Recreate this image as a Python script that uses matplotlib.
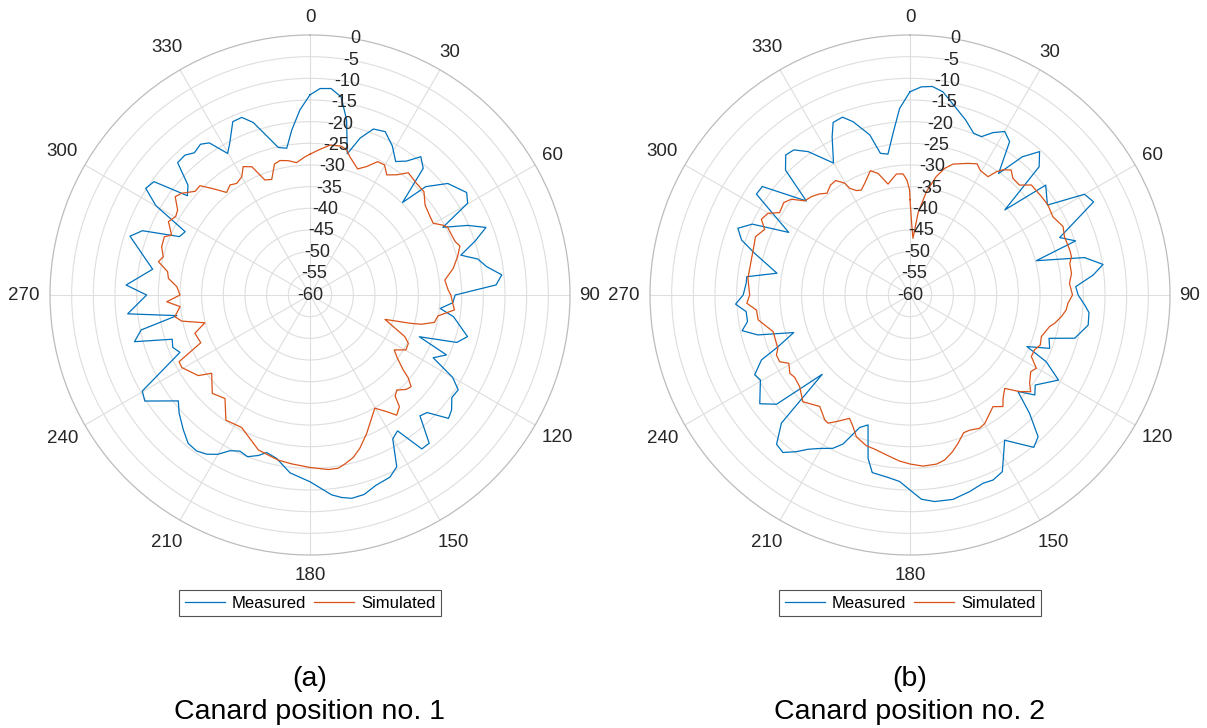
import numpy as np
import matplotlib.pyplot as plt

# =========================================
# DATA — normalised patterns (dB) vs azimuth (deg)
# =========================================
# Canard position no. 1
meas1_theta = [0, 2.8, 5.8, 8.9, 11.8, 14.8, 17.7, 20.9, 24.7, 28.9, 32.7, 35.8, 38.7, 41.8, 45.0,
               46.9, 51.0, 56.8, 59.8, 63.0, 66.2, 69.0, 71.9, 75.2, 77.9, 80.9, 84.0, 86.9, 90.0,
               93.1, 95.9, 98.6, 104.8, 107.9, 110.9, 113.7, 117.0, 120.0, 122.6, 125.9, 129.1,
               131.7, 135.1, 137.7, 141.2, 144.0, 147.2, 150.1, 153.2, 156.3, 161.0, 164.8, 168.4,
               171.1, 173.8, 180.0, 186.4, 191.5, 195.4, 197.8, 201.1, 204.2, 207.2, 210.1, 213.0,
               216.0, 219.4, 223.2, 227.9, 231.2, 237.3, 240.2, 246.2, 249.1, 252.2, 255.1, 258.3,
               261.2, 264.1, 270.0, 273.1, 279.3, 288.1, 291.0, 294.1, 296.9, 300.1, 303.0, 306.0,
               309.0, 312.0, 315.0, 318.2, 320.9, 324.0, 326.5, 329.8, 332.1, 336.0, 339.0, 341.8,
               347.9, 351.0, 353.7, 356.9]
meas1_db = [-13.8, -12.3, -12.1, -13.7, -18.7, -26.3, -22.0, -19.0, -18.5, -20.7, -23.4, -21.9, -19.1, -20.8, -29.8,
            -23.4, -19.1, -16.8, -17.9, -25.6, -20.2, -16.5, -19.9, -24.0, -20.4, -18.7, -15.5, -17.0, -26.5,
            -27.0, -29.8, -26.5, -22.4, -24.4, -33.0, -25.6, -28.1, -22.0, -19.4, -19.6, -17.9,
            -17.2, -21.7, -22.3, -16.1, -16.1, -22.7, -21.7, -15.6, -14.1, -13.5, -12.3, -12.1,
            -12.7, -13.6, -16.9, -18.7, -21.5, -22.3, -21.1, -20.0, -20.5, -19.6, -17.5, -16.2,
            -15.5, -15.7, -17.3, -19.3, -21.0, -14.7, -15.4, -27.2, -26.1, -26.6, -18.1, -20.2,
            -28.9, -17.7, -22.3, -17.5, -23.2, -16.3, -18.6, -27.0, -27.7, -18.9, -14.8, -15.5,
            -23.6, -22.1, -16.8, -16.7, -17.7, -17.0, -17.9, -22.2, -20.4, -16.2, -16.1, -18.1,
            -25.2, -25.7, -21.7, -17.2]

sim1_theta = [0, 3.3, 7.6, 11.8, 14.2, 16.1, 20.7, 23.8, 26.9, 29.8, 32.6, 35.8, 38.8, 43.7, 47.8,
              52.0, 56.9, 59.8, 62.2, 63.8, 67.0, 69.8, 71.9, 75.4, 79.5, 83.7, 87.9, 90.0, 95.9,
              99.3, 102.4, 104.7, 105.7, 108.0, 113.7, 116.2, 119.8, 123.1, 125.9, 128.8, 130.1,
              132.2, 134.5, 137.6, 139.9, 141.3, 144.2, 146.7, 150.2, 154.0, 157.7, 162.0, 165.1,
              168.3, 170.7, 174.0, 177.8, 180.0, 186.2, 190.9, 195.9, 198.4, 207.3, 213.9, 219.4,
              224.8, 231.5, 234.2, 240.5, 243.0, 246.4, 251.6, 255.2, 258.5, 260.9, 264.9, 267.3,
              270.0, 273.6, 276.7, 279.3, 282.4, 284.6, 288.0, 291.8, 293.4, 297.4, 300.3, 302.7,
              306.1, 308.4, 312.1, 314.8, 317.3, 320.9, 324.0, 326.7, 330.0, 332.5, 335.6, 338.6,
              341.7, 344.8, 347.4, 350.8, 354.2, 357.9]
sim1_db = [-27.5, -26.5, -25.1, -24.9, -25.5, -26.8, -28.9, -27.6, -25.5, -25.4, -27.1, -25.8, -23.8, -24.4, -24.5,
           -26.3, -26.9, -27.1, -25.4, -24.6, -24.5, -24.3, -23.6, -24.8, -26.4, -28.7, -28.1, -27.5, -26.5,
           -30.1, -30.6, -33.4, -35.8, -41.8, -36.1, -34.7, -34.5, -36.8, -35.1, -32.4, -30.4,
           -28.5, -28.9, -30.3, -29.5, -27.0, -25.8, -27.8, -29.9, -27.9, -25.5, -22.8, -21.2,
           -20.2, -19.5, -19.5, -20.0, -20.2, -20.8, -21.2, -22.0, -22.3, -25.6, -25.2, -29.1,
           -28.0, -31.0, -28.2, -26.0, -26.1, -32.5, -32.0, -34.9, -29.8, -28.4, -29.9, -26.9,
           -30.0, -29.2, -27.1, -26.7, -24.2, -25.0, -24.0, -23.8, -25.2, -23.2, -24.1, -23.7,
           -21.5, -22.2, -24.3, -24.2, -26.5, -29.5, -28.6, -29.2, -28.5, -26.6, -27.5, -31.5,
           -31.9, -28.7, -28.2, -28.6, -29.3, -28.1]

# Canard position no. 2
meas2_theta = [0, 3.1, 6.1, 9.2, 13.9, 17.6, 21.5, 24.3, 27.1, 30.1, 33.0, 36.1, 39.1, 42.1, 45.2,
               48.1, 51.0, 56.8, 60.0, 63.1, 69.0, 71.9, 74.8, 77.9, 81.0, 83.8, 87.1, 90.0, 93.3,
               95.6, 99.6, 104.7, 107.3, 110.9, 113.8, 116.1, 119.8, 125.7, 128.7, 131.8, 134.7,
               137.9, 140.9, 146.9, 152.4, 155.8, 158.8, 163.1, 168.1, 173.2, 176.8, 180.0, 183.2,
               186.9, 192.0, 194.4, 197.9, 200.8, 204.2, 206.7, 210.5, 213.5, 216.0, 218.9, 221.8,
               225.1, 227.9, 230.7, 234.1, 240.4, 242.8, 246.4, 248.6, 252.1, 255.3, 258.0, 260.7,
               264.2, 267.0, 270.0, 274.1, 276.4, 279.3, 285.0, 288.1, 291.2, 294.2, 297.3, 303.3,
               306.3, 312.2, 315.1, 318.4, 321.3, 324.6, 329.9, 333.8, 336.0, 339.2, 341.8, 345.9,
               348.2, 351.1, 354.0, 356.8]
meas2_db = [-13.1, -11.9, -11.6, -12.5, -15.6, -17.6, -19.9, -19.9, -17.9, -16.4, -17.8, -25.3, -18.9, -15.4, -18.0,
            -30.6, -19.7, -22.1, -13.5, -12.5, -23.0, -19.8, -29.8, -18.8, -14.9, -17.5, -21.7, -21.2, -19.6,
            -18.5, -18.3, -20.7, -26.4, -25.5, -30.5, -25.0, -20.5, -24.4, -23.1, -26.6, -21.2,
            -15.9, -14.7, -20.0, -14.0, -13.2, -13.4, -12.6, -11.8, -12.0, -12.8, -15.0, -16.9,
            -17.6, -18.1, -21.1, -28.5, -27.3, -22.3, -20.4, -18.9, -17.3, -15.3, -13.3, -13.8,
            -18.1, -32.7, -20.2, -17.2, -20.3, -19.7, -22.6, -27.3, -31.8, -23.7, -20.4, -22.0,
            -22.0, -19.7, -21.5, -22.1, -22.1, -28.9, -22.9, -19.1, -17.4, -20.1, -28.5, -17.6,
            -17.7, -27.7, -19.3, -16.8, -17.1, -19.4, -24.8, -19.3, -16.4, -16.1, -17.9, -21.9,
            -26.6, -27.1, -22.5, -16.9]

sim2_theta = [0, 1.5, 3.0, 5.6, 9.0, 12.5, 15.3, 18.2, 23.8, 27.1, 29.5, 33.4, 35.0, 36.6, 39.0,
              41.4, 44.9, 47.8, 53.2, 56.9, 61.3, 65.9, 69.3, 74.3, 76.6, 78.8, 82.4, 85.8, 90.0,
              93.0, 95.5, 98.1, 101.1, 102.8, 107.6, 111.0, 113.8, 116.9, 120.1, 122.4, 126.4,
              128.7, 131.4, 134.6, 138.0, 140.2, 143.4, 149.8, 152.4, 156.2, 158.7, 162.1, 164.9,
              168.1, 171.1, 175.7, 180.0, 183.6, 188.4, 192.9, 196.2, 200.7, 203.4, 206.1, 210.2,
              212.6, 214.3, 219.0, 223.3, 225.1, 230.3, 234.5, 236.9, 240.6, 242.9, 245.8, 248.0,
              252.9, 255.0, 260.7, 264.4, 267.1, 270.0, 275.9, 282.4, 290.7, 294.3, 297.0, 299.9,
              302.3, 306.2, 308.9, 311.8, 315.1, 318.2, 320.8, 324.1, 327.0, 329.7, 330.5, 332.8,
              335.1, 337.9, 342.3, 345.3, 348.8, 353.6, 356.7, 358.5, 359.8]
sim2_db = [-38.0, -44.0, -46.9, -41.0, -35.9, -32.0, -29.7, -28.2, -26.8, -26.0, -27.0, -27.3, -25.3, -24.0, -22.9,
           -24.1, -24.2, -22.2, -22.1, -22.0, -22.4, -21.3, -21.9, -21.7, -21.7, -22.4, -22.4, -23.1, -22.5,
           -23.5, -23.8, -24.7, -26.0, -27.0, -28.2, -27.8, -28.6, -28.6, -26.3, -27.0, -25.7,
           -24.3, -26.3, -29.3, -27.9, -26.5, -27.9, -25.7, -25.3, -25.9, -25.9, -24.0, -22.5,
           -21.1, -20.5, -20.4, -21.0, -21.6, -22.7, -23.5, -23.8, -25.0, -26.9, -28.3, -26.2,
           -24.9, -25.1, -26.9, -25.7, -25.1, -26.9, -27.3, -26.9, -27.9, -26.2, -26.2, -27.1,
           -27.3, -27.3, -24.5, -24.4, -22.3, -23.0, -22.4, -22.5, -21.9, -23.2, -21.5, -22.2,
           -24.4, -23.9, -24.8, -27.4, -27.9, -28.7, -29.7, -28.7, -28.5, -30.1, -31.7, -32.9,
           -33.3, -32.2, -29.9, -31.0, -33.9, -31.9, -32.0, -33.5, -35.8]

theta_ticks = list(range(0, 360, 30))
r_ticks = list(range(-60, 1, 5))
captions = [("(a)", "Canard position no. 1"), ("(b)", "Canard position no. 2")]

# =========================================
# STYLE
# =========================================
plt.rcParams['font.family'] = ['Liberation Sans', 'DejaVu Sans']
BLUE   = '#0072BD'
ORANGE = '#D95319'
TXT    = '#262626'
W, H   = 1207, 728
RAD    = 260          # plot radius in px

fig = plt.figure(figsize=(W / 100, H / 100), dpi=100)


def closed(theta, vals):
    t = np.deg2rad(np.append(theta, theta[0] + 360))
    v = np.append(vals, vals[0])
    return t, v


def px_to_r(d):
    # distance from centre in px -> radial data value
    return -60 + 60 * d / RAD


def panel(cx, meas_t, meas_v, sim_t, sim_v, tag, caption):
    cy = 295
    ax = fig.add_axes([(cx - RAD) / W, (H - cy - RAD) / H, 2 * RAD / W, 2 * RAD / H],
                      projection='polar')
    ax.set_theta_zero_location('N')
    ax.set_theta_direction(-1)
    ax.set_rlim(-60, 0)
    ax.set_rticks(r_ticks[1:-1])
    ax.set_yticklabels([])
    ax.set_xticks(np.deg2rad(theta_ticks))
    ax.set_xticklabels([])
    ax.tick_params(length=0, pad=0)
    ax.grid(True, color='#dedede', lw=0.8)
    ax.spines['polar'].set_color('#bcbcbc')
    ax.spines['polar'].set_linewidth(0.9)

    t, v = closed(meas_t, meas_v)
    ax.plot(t, v, color=BLUE, lw=0.9, label='Measured')
    t, v = closed(sim_t, sim_v)
    ax.plot(t, v, color=ORANGE, lw=0.9, label='Simulated')

    # angle labels just outside the outer ring (wider labels sit a bit further out)
    for a in theta_ticks:
        if a == 0:
            d = 277
        elif a % 180 == 0 or a < 100:
            d = 280
        else:
            d = 286
        ax.text(np.deg2rad(a), px_to_r(d), str(a), ha='center', va='center',
                fontsize=13.5, color=TXT, clip_on=False)
    # dB labels along a ray at 10 deg
    for r in r_ticks:
        ax.text(np.deg2rad(10), r, str(r), ha='center', va='center',
                fontsize=13, color=TXT)

    leg = ax.legend(loc='center', bbox_to_anchor=(cx / W, 1 - 603 / H),
                    bbox_transform=fig.transFigure, ncol=2, fontsize=12,
                    frameon=True, fancybox=False, edgecolor=TXT,
                    handlelength=2.4, handletextpad=0.4, columnspacing=0.5,
                    borderpad=0.35, borderaxespad=0)
    leg.get_frame().set_linewidth(0.8)

    fig.text(cx / W, 1 - 686 / H, tag, ha='center', va='baseline', fontsize=20.5)
    fig.text(cx / W, 1 - 719 / H, caption, ha='center', va='baseline', fontsize=20.5)


panel(310, meas1_theta, meas1_db, sim1_theta, sim1_db, *captions[0])
panel(910, meas2_theta, meas2_db, sim2_theta, sim2_db, *captions[1])

plt.savefig("out.png", dpi=100)
